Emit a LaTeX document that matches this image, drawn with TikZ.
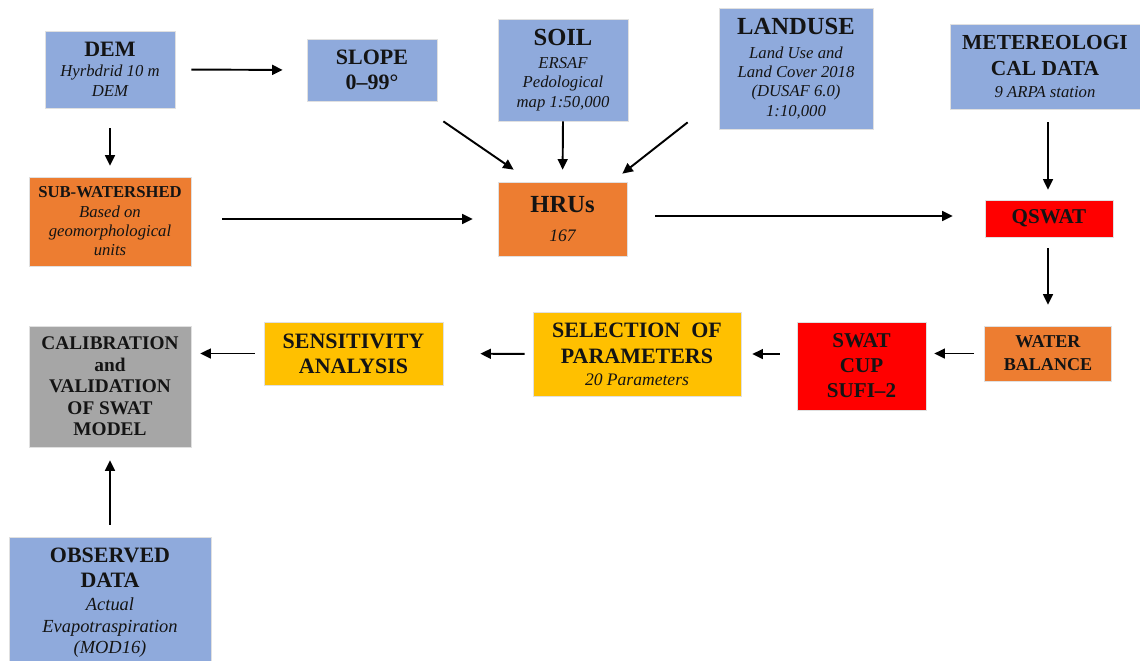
\documentclass[tikz,border=0pt]{standalone}
\usepackage{fontspec}
\setmainfont{Liberation Serif}
\usetikzlibrary{arrows.meta,calc}
\definecolor{cblue}{RGB}{143,170,220}
\definecolor{corange}{RGB}{237,125,49}
\definecolor{cred}{RGB}{255,0,0}
\definecolor{cyellow}{RGB}{255,192,0}
\definecolor{cgray}{RGB}{166,166,166}
\newcommand{\myB}[2]{\fontsize{#1}{#2}\selectfont\bfseries\upshape}
\newcommand{\myI}[2]{\fontsize{#1}{#2}\selectfont\itshape\mdseries}
\tikzset{
  box/.style={draw=black!12, line width=0.4pt, inner sep=0pt, align=center, text=black!92},
  sz/.style 2 args={minimum width=#1*0.02cm, minimum height=#2*0.02cm},
  bbox/.style={box, fill=cblue},
  obox/.style={box, fill=corange},
  rbox/.style={box, fill=cred},
  ybox/.style={box, fill=cyellow},
  gbox/.style={box, fill=cgray},
  arr/.style={line width=1.1pt, -{Triangle[length=6pt,width=5.6pt]}},
}
\begin{document}
\begin{tikzpicture}[x=0.02cm, y=-0.02cm]
\useasboundingbox (0,0) rectangle (1140,660);

% top row
\node[bbox, sz={130}{77}, font=\myI{9.5}{11.3}] (dem) at (110,69.5)
  {{\myB{12.5}{15}DEM}\\Hyrbdrid 10 m\\DEM};
\node[bbox, sz={130}{62}, font=\myB{12.5}{14}] (slope) at (372,70)
  {SLOPE\\0--99\textdegree};
\node[bbox, sz={130}{102}, font=\myI{9.5}{11}] (soil) at (563,70)
  {{\myB{14}{16}SOIL}\\[2pt]ERSAF\\Pedological\\map 1:50,000};
\node[bbox, sz={154}{121}, font=\myI{9.5}{11}] (landuse) at (796,68.5)
  {{\myB{14}{16}LANDUSE}\\[2.6pt]Land Use and\\Land Cover 2018\\(DUSAF 6.0)\\1:10,000};
\node[bbox, sz={190}{85}, font=\myB{12.2}{14.7}] (meteo) at (1045,66.5)
  {METEREOLOGI\\CAL DATA\\[-2.2pt]{\myI{9.5}{11}9 ARPA station}};

% second row
\node[obox, sz={162}{89}, font=\myI{9.5}{11}] (sub) at (110,221.5)
  {{\myB{9.5}{11}SUB-WATERSHED}\\Based on\\geomorphological\\units};
\node[obox, sz={129}{74}, font=\myB{14}{17}] (hru) at (562.5,219)
  {HRUs\\{\myI{10}{12}167}};
\node[rbox, sz={128}{37}, font=\myB{12}{14}] (qswat) at (1049,218.5)
  {QSWAT};

% third row
\node[obox, sz={127}{55}, font=\myB{10.3}{13}] (water) at (1048,353.5)
  {WATER\\BALANCE};
\node[rbox, sz={129}{88}, font=\myB{12}{14.2}] (swat) at (861.5,366)
  {SWAT\\CUP\\SUFI--2};
\node[ybox, sz={208}{84}, font=\myB{12.5}{14.7}] (sel) at (637,354)
  {SELECTION\ \ OF\\PARAMETERS\\[-2.2pt]{\myI{10}{12}20 Parameters}};
\node[ybox, sz={179}{63}, font=\myB{12.5}{14.2}] (sens) at (353.5,353.5)
  {SENSITIVITY\\ANALYSIS};
\node[gbox, sz={162}{121}, font=\myB{11}{12.2}] (cal) at (110,386.5)
  {CALIBRATION\\and\\VALIDATION\\OF SWAT\\MODEL};

% bottom
\node[bbox, sz={202}{131}, font=\myI{10.5}{12}] (obs) at (110,602.5)
  {{\myB{12.5}{14}OBSERVED}\\[2.2pt]{\myB{12.5}{14}DATA}\\[1.4pt]Actual\\Evapotraspiration\\(MOD16)};

% connectors
\draw[arr, shorten <=0.32cm, shorten >=0.48cm] (dem.east) -- (slope.west);
\draw[arr, shorten <=0.4cm, shorten >=0.22cm] (dem.south) -- (sub.north);
\draw[arr] ($(slope.south east)+(6,20)$) -- ($(hru.north west)+(16,-12)$);
\draw[arr, shorten >=0.24cm] (soil.south) -- (hru.north);
\draw[arr] ($(landuse.south west)+(-31,-7)$) -- ($(hru.north east)+(-5,-8)$);
\draw[arr] ($(sub.east)+(31,-2.5)$) -- ($(hru.west)+(-25,0)$);
\draw[arr] ($(hru.east)+(28,-3)$) -- ($(qswat.west)+(-32,-2.5)$);
\draw[arr] ($(meteo.south)+(3,13)$) -- ($(qswat.north)+(-1,-10)$);
\draw[arr] ($(qswat.south)+(-1,11)$) -- ($(water.north)+(0,-21)$);
\draw[arr] ($(water.west)+(-10,0)$) -- ($(swat.east |- water.west)+(8,0)$);
\draw[arr] ($(swat.west |- sel.east)+(-17,0)$) -- ($(sel.east)+(11,0)$);
\draw[arr, shorten <=0.16cm, shorten >=0.74cm] (sel.west) -- (sens.east);
\draw[arr] ($(sens.west)+(-9,0)$) -- ($(cal.east |- sens.west)+(9,0)$);
\draw[arr, shorten <=0.24cm, shorten >=0.26cm] (obs.north) -- (cal.south);
\end{tikzpicture}
\end{document}
